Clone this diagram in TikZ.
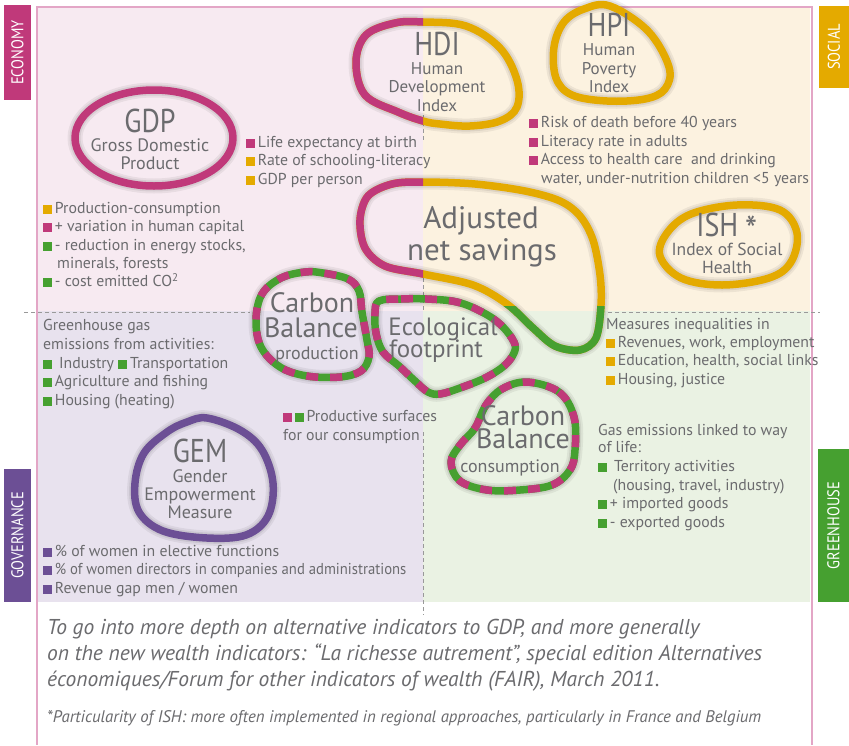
\documentclass[tikz,border=0pt]{standalone}
\usepackage{fontspec}
\setmainfont{PT Sans}
\newfontfamily\condf{PT Sans}[FakeStretch=0.85]
\newfontfamily\narrowf{PT Sans}[FakeStretch=0.93]
\definecolor{mag}{HTML}{C0397A}
\definecolor{gold}{HTML}{E4AA00}
\definecolor{grn}{HTML}{46A030}
\definecolor{purp}{HTML}{6C4F95}
\definecolor{txt}{HTML}{6B6B6E}
\definecolor{qTL}{HTML}{F7EAF1}
\definecolor{qTR}{HTML}{FCF2E0}
\definecolor{qBL}{HTML}{E8E2EE}
\definecolor{qBR}{HTML}{EAF2E3}
\definecolor{framec}{HTML}{E3A6C6}
\newcommand\bsq[1]{{\color{#1}\rule{0.56em}{0.56em}}\hspace{0.18em}}
\def\pHDI{plot[smooth cycle,tension=0.6] coordinates {(423,22) (466,26) (500,48) (517,80) (517,107) (500,121) (470,126) (440,124) (423,121) (398,112) (365,95) (356,62) (366,35) (395,23)}}
\def\pHPI{plot[smooth cycle,tension=0.6] coordinates {(610,6) (648,31) (669,67) (665,89) (645,99) (607,101) (572,95) (556,78) (554,47) (564,22) (584,9)}}
\def\pANS{plot[smooth cycle,tension=0.55] coordinates {(423,182) (475,184) (525,191) (560,201) (580,216) (593,240) (600,275) (601,305) (596,338) (580,350) (555,346) (533,328) (507,304) (473,285) (423,274) (385,266) (365,248) (360,220) (368,196) (392,184)}}
\def\pISH{plot[smooth cycle,tension=0.6] coordinates {(737,205) (780,210) (797,233) (791,262) (769,278) (722,285) (681,278) (660,256) (667,233) (691,214)}}
\def\pCBP{plot[smooth cycle,tension=0.6] coordinates {(323,273) (348,279) (359,291) (362,312) (367,340) (369,357) (361,371) (340,377) (307,376) (280,367) (261,347) (256,320) (262,294) (281,278) (305,272)}}
\def\pECO{plot[smooth cycle,tension=0.6] coordinates {(379,301) (401,299) (427,299) (457,302) (482,312) (501,325) (514,342) (514,353) (504,366) (485,378) (460,388) (440,394) (428,392) (415,381) (399,366) (383,352) (376,333) (375,313)}}
\def\pCBC{plot[smooth cycle,tension=0.6] coordinates {(527,382) (559,392) (574,417) (575,450) (570,470) (552,485) (520,490) (487,490) (460,481) (451,462) (460,445) (475,428) (486,405) (502,389)}}
\def\pGEM{plot[smooth cycle,tension=0.6] coordinates {(207,418) (240,430) (262,450) (273,483) (268,516) (246,535) (207,538) (163,531) (139,512) (135,483) (144,453) (167,432) (187,422)}}
\begin{document}
\begin{tikzpicture}[x=1pt,y=-1pt,
  ring/.style={line width=7.5pt, line join=round},
  shadowring/.style={line width=15pt, black, opacity=0.06, line join=round},
  shadowring2/.style={line width=11pt, black, opacity=0.07, line join=round},
  dashring/.style={ring, mag, dash pattern=on 12pt off 12pt},
  guide/.style={draw=black!40, line width=0.9pt, dash pattern=on 4pt off 3pt},
  side/.style={rotate=90, text=white, inner sep=0pt, font=\condf\fontsize{17}{17}\selectfont},
  tl/.style={text=txt, inner sep=0pt, anchor=mid west, font=\fontsize{15.8}{18}\selectfont},
  acr/.style={text=txt, inner sep=0pt, anchor=base, font=\condf\fontsize{33}{33}\selectfont},
  sub/.style={text=txt, inner sep=0pt, anchor=base, font=\fontsize{18}{18}\selectfont},
  mid/.style={text=txt, inner sep=0pt, anchor=base, font=\fontsize{28}{28}\selectfont},
  foot/.style={text=txt, inner sep=0pt, anchor=mid west, font=\itshape\fontsize{21.5}{23}\selectfont}]
\useasboundingbox (0,0) rectangle (849,745);
\fill[white] (0,0) rectangle (849,745);
% quadrants
\fill[qTL] (38,8) rectangle (423,311);
\fill[qTR] (423,8) rectangle (810,311);
\fill[qBL] (38,311) rectangle (423,602);
\fill[qBR] (423,311) rectangle (810,602);
\draw[framec, line width=1.3pt] (37,745) -- (37,7) -- (812,7) -- (812,745);
% guide lines
\draw[guide] (24,312) -- (250,312);
\draw[guide] (608,312) -- (820,312);
\draw[guide] (423,115) -- (423,140);
\draw[guide] (423,278) -- (423,310);
\draw[guide] (423,432) -- (423,615);
% side labels
\node[side, fill=mag, minimum width=95pt, minimum height=27pt] (econ) at (17.5,52.5) {ECONOMY};
\node[side, fill=gold, minimum width=82pt, minimum height=30pt] (social) at (834,47) {SOCIAL};
\node[side, fill=purp, minimum width=133pt, minimum height=27pt] (gov) at (17.5,535.5) {GOVERNANCE};
\node[side, fill=grn, minimum width=153pt, minimum height=31pt] (green) at (833.5,525.5) {GREENHOUSE};
% rings: shadows
\foreach \p in {\pHDI,\pHPI,\pANS,\pISH,\pCBP,\pECO,\pCBC,\pGEM}{
  \draw[shadowring] \p; \draw[shadowring2] \p;}
\draw[shadowring] (154,138) ellipse [x radius=79pt, y radius=48pt];
\draw[shadowring2] (154,138) ellipse [x radius=79pt, y radius=48pt];
% GDP
\draw[ring, mag] (154,138) ellipse [x radius=79pt, y radius=48pt];
% HDI
\draw[ring, gold] \pHDI;
\begin{scope}\clip (0,0) rectangle (423,745); \draw[ring, mag] \pHDI; \end{scope}
% HPI
\draw[ring, gold] \pHPI;
% ANS
\draw[ring, gold] \pANS;
\begin{scope}\clip (0,0) rectangle (423,745); \draw[ring, mag] \pANS; \end{scope}
\begin{scope}\clip (423,306) rectangle (849,745); \draw[ring, grn] \pANS; \end{scope}
% ISH
\draw[ring, gold] \pISH;
% carbon production, eco, carbon consumption
\draw[ring, grn] \pCBP; \draw[dashring] \pCBP;
\draw[ring, grn] \pECO; \draw[dashring] \pECO;
\draw[ring, grn] \pCBC; \draw[dashring] \pCBC;
% GEM
\draw[ring, purp] \pGEM;
% ring labels
\node[acr] (gdpA) at (150,132) {GDP};
\node[sub] (gdpB) at (150,151) {Gross Domestic};
\node[sub] (gdpC) at (150,169) {Product};
\node[acr] (hdiA) at (437,55) {HDI};
\node[sub, font=\fontsize{17}{17}\selectfont] (hdiB) at (437,74) {Human};
\node[sub, font=\fontsize{17}{17}\selectfont] (hdiC) at (437,92) {Development};
\node[sub, font=\fontsize{17}{17}\selectfont] (hdiD) at (437,111) {Index};
\node[acr] (hpiA) at (609,36) {HPI};
\node[sub, font=\fontsize{17}{17}\selectfont] (hpiB) at (609,55) {Human};
\node[sub, font=\fontsize{17}{17}\selectfont] (hpiC) at (609,74) {Poverty};
\node[sub, font=\fontsize{17}{17}\selectfont] (hpiD) at (609,92) {Index};
\node[mid, font=\fontsize{31}{31}\selectfont] (ansA) at (481,228) {Adjusted};
\node[mid, font=\fontsize{31}{31}\selectfont] (ansB) at (482,260) {net savings};
\node[acr] (ishA) at (727,236) {ISH \raisebox{-8pt}{\fontsize{40}{40}\selectfont *}};
\node[sub, font=\fontsize{17.5}{17.5}\selectfont] (ishB) at (727,255) {Index of Social};
\node[sub, font=\fontsize{17.5}{17.5}\selectfont] (ishC) at (727,273) {Health};
\node[mid] (cbpA) at (312,312) {Carbon};
\node[mid] (cbpB) at (311,337) {Balance};
\node[sub] (cbpC) at (317,359) {production};
\node[mid, font=\fontsize{25}{25}\selectfont] (ecoA) at (443,335) {Ecological};
\node[mid, font=\fontsize{25}{25}\selectfont] (ecoB) at (436,357) {footprint};
\node[mid] (cbcA) at (523,425) {Carbon};
\node[mid] (cbcB) at (523,448) {Balance};
\node[sub] (cbcC) at (510,472) {consumption};
\node[acr] (gemA) at (200,462) {GEM};
\node[sub] (gemB) at (200,482) {Gender};
\node[sub] (gemC) at (200,500) {Empowerment};
\node[sub] (gemD) at (200,518) {Measure};
% HDI bullets
\node[tl] (h1) at (246,145) {\bsq{mag}Life expectancy at birth};
\node[tl] (h2) at (246,163) {\bsq{gold}Rate of schooling-literacy};
\node[tl] (h3) at (246,182) {\bsq{gold}GDP per person};
% ANS bullets
\node[tl] (a1) at (43,211) {\bsq{gold}Production-consumption};
\node[tl] (a2) at (43,229) {\bsq{mag}+ variation in human capital};
\node[tl] (a3) at (43,248) {\bsq{grn}- reduction in energy stocks,};
\node[tl] (a4) at (57,266) {minerals, forests};
\node[tl] (a5) at (43,284) {\bsq{grn}- cost emitted CO\textsuperscript{2}};
% HPI bullets
\node[tl] (p1) at (529,125) {\bsq{mag}Risk of death before 40 years};
\node[tl] (p2) at (529,144) {\bsq{mag}Literacy rate in adults};
\node[tl] (p3) at (529,162) {\bsq{mag}Access to health care \ and drinking};
\node[tl] (p4) at (541,181) {water, under-nutrition children <5 years};
% carbon production
\node[tl] (c1) at (43,328) {Greenhouse gas};
\node[tl] (c2) at (43,347) {emissions from activities:};
\node[tl] (c3) at (43,366) {\bsq{grn} Industry \bsq{grn}Transportation};
\node[tl] (c4) at (43,384) {\bsq{grn}Agriculture and fishing};
\node[tl] (c5) at (43,403) {\bsq{grn}Housing (heating)};
% productive surfaces
\node[tl] (s1) at (283,419) {\bsq{mag}\bsq{grn}Productive surfaces};
\node[tl] (s2) at (283,438) {for our consumption};
% GEM bullets
\node[tl] (g1) at (43,554) {\bsq{purp}\% of women in elective functions};
\node[tl, font=\narrowf\fontsize{15.8}{18}\selectfont] (g2) at (43,572) {\bsq{purp}\% of women directors in companies and administrations};
\node[tl] (g3) at (43,591) {\bsq{purp}Revenue gap men / women};
% ISH bullets
\node[tl] (i1) at (606,327) {Measures inequalities in};
\node[tl] (i2) at (606,345) {\bsq{gold}Revenues, work, employment};
\node[tl] (i3) at (606,363) {\bsq{gold}Education, health, social links};
\node[tl] (i4) at (606,382) {\bsq{gold}Housing, justice};
% carbon consumption bullets
\node[tl] (k1) at (598,433) {Gas emissions linked to way};
\node[tl] (k2) at (598,450) {of life:};
\node[tl] (k3) at (598,469) {\bsq{grn} Territory activities};
\node[tl] (k4) at (613,488) {(housing, travel, industry)};
\node[tl] (k5) at (598,506) {\bsq{grn}+ imported goods};
\node[tl] (k6) at (598,525) {\bsq{grn}- exported goods};
% footer
\node[foot] (f1) at (47,632) {To go into more depth on alternative indicators to GDP, and more generally};
\node[foot] (f2) at (47,658) {on the new wealth indicators: “La richesse autrement”, special edition Alternatives};
\node[foot] (f3) at (47,684) {économiques/Forum for other indicators of wealth (FAIR), March 2011.};
\node[foot, font=\itshape\fontsize{16.8}{18}\selectfont] (f4) at (47,720) {*Particularity of ISH: more often implemented in regional approaches, particularly in France and Belgium};
\end{tikzpicture}
\end{document}
